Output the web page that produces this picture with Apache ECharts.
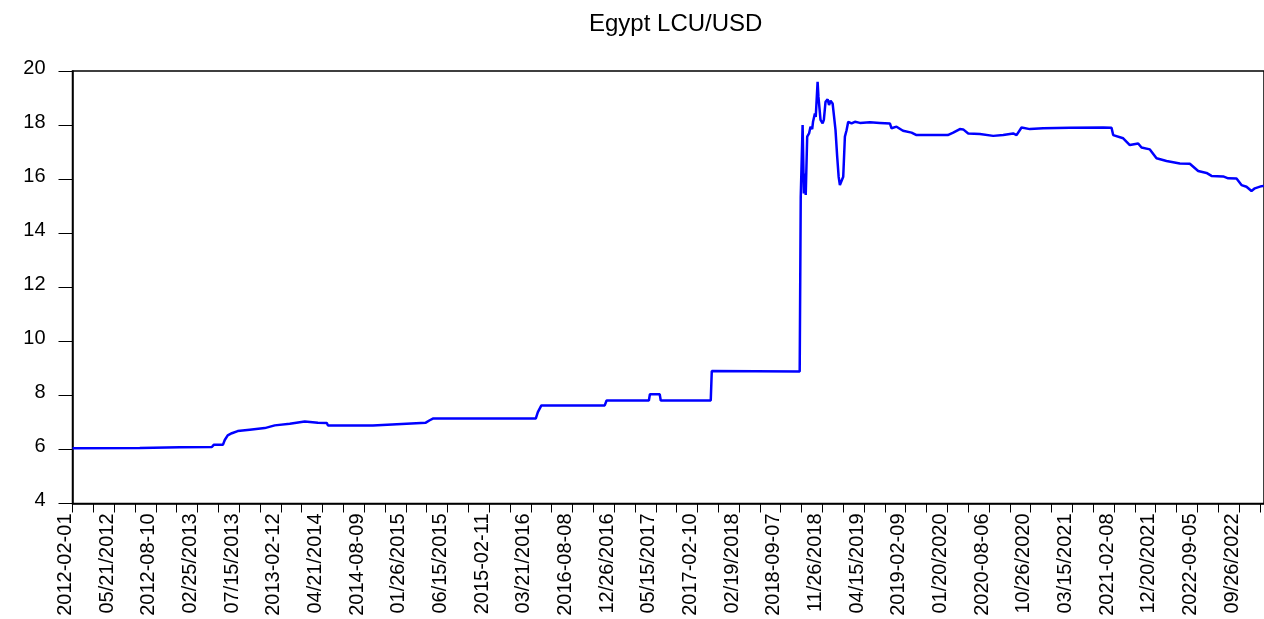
<!DOCTYPE html>
<html>
<head>
<meta charset="utf-8">
<script src="https://cdn.jsdelivr.net/npm/echarts@6/dist/echarts.min.js"></script>
<style>
html,body{margin:0;padding:0;background:#fff;}
#chart{width:1264px;height:619px;}
</style>
</head>
<body>
<div id="chart"></div>
<script>
// Tick labels shown on every second tick of the observation axis
const tickLabels = [
  "2012-02-01","05/21/2012","2012-08-10","02/25/2013","07/15/2013","2013-02-12",
  "04/21/2014","2014-08-09","01/26/2015","06/15/2015","2015-02-11","03/21/2016",
  "2016-08-08","12/26/2016","05/15/2017","2017-02-10","02/19/2018","2018-09-07",
  "11/26/2018","04/15/2019","2019-02-09","01/20/2020","2020-08-06","10/26/2020",
  "03/15/2021","2021-02-08","12/20/2021","2022-09-05","09/26/2022"
];

// Observation position (in axis tick units) and LCU per USD
const obsPos = [
  0, 3.23, 5.15, 6.69, 6.78, 7.22, 7.31, 7.45, 7.65, 7.93, 8.51, 9.23, 9.71, 10.43, 11.15, 11.78, 12.21, 12.26,
  14.42, 14.46, 16.96, 17.15, 17.30, 22.24, 22.34, 22.51, 25.55, 25.64, 27.67, 27.72, 28.19, 28.24, 30.64, 30.69,
  34.91, 34.96, 35.05, 35.11, 35.16, 35.20, 35.27, 35.36, 35.43, 35.51, 35.55, 35.64, 35.68, 35.77, 35.81, 35.88,
  35.91, 36.01, 36.07, 36.15, 36.25, 36.32, 36.39, 36.49, 36.56, 36.63, 36.71, 36.78, 36.84, 36.92, 37.00, 37.08,
  37.16, 37.24, 37.32, 37.40, 37.56, 37.80, 38.28, 38.76, 39.24, 39.32, 39.56, 39.87, 40.28, 40.52, 42.02, 42.28,
  42.60, 42.76, 43.00, 43.56, 44.20, 44.68, 45.16, 45.32, 45.56, 45.96, 46.60, 47.88, 49.48, 49.88, 49.96, 50.44,
  50.76, 51.16, 51.32, 51.72, 52.04, 52.52, 53.16, 53.64, 54.04, 54.44, 54.68, 55.24, 55.48, 55.88, 56.12, 56.36,
  56.60, 56.76, 57.08, 57.19
];
const rate = [
  6.04, 6.05, 6.08, 6.09, 6.17, 6.17, 6.35, 6.52, 6.60, 6.68, 6.73, 6.79, 6.89, 6.95, 7.03, 6.99, 6.98, 6.89,
  6.89, 6.95, 6.99, 7.08, 7.14, 7.14, 7.38, 7.63, 7.63, 7.81, 7.81, 8.04, 8.04, 7.81, 7.81, 8.90,
  8.88, 15.34, 18.00, 15.47, 16.21, 15.41, 17.57, 17.69, 17.94, 17.85, 18.12, 18.43, 18.30, 19.60, 19.05, 19.00,
  18.19, 18.06, 18.19, 18.86, 18.95, 18.74, 18.90, 18.80, 18.31, 17.81, 16.83, 16.09, 15.78, 15.72, 16.09, 17.57,
  17.81, 18.12, 18.19, 18.06, 18.12, 18.08, 18.10, 18.08, 18.06, 17.88, 17.94, 17.79, 17.72, 17.63, 17.63, 17.72,
  17.85, 17.84, 17.69, 17.67, 17.60, 17.63, 17.69, 17.63, 17.91, 17.85, 17.88, 17.90, 17.91, 17.90, 17.63, 17.51,
  17.26, 17.32, 17.17, 17.10, 16.77, 16.67, 16.58, 16.57, 16.30, 16.23, 16.12, 16.10, 16.03, 16.02, 15.78, 15.72,
  15.56, 15.66, 15.74, 15.75
];

const yTicks = { min: 4, max: 20, step: 2 };

const chart = echarts.init(document.getElementById('chart'), null, { renderer: 'canvas' });
const seriesData = obsPos.map((p, i) => [p, rate[i]]);

chart.setOption({
  animation: false,
  backgroundColor: '#ffffff',
  title: {
    text: 'Egypt LCU/USD',
    left: 584,
    top: 7,
    textStyle: { fontFamily: 'Liberation Sans, Arial, sans-serif', fontSize: 24, fontWeight: 'normal', color: '#000' }
  },
  grid: {
    left: 72.5, right: 0, top: 71, bottom: 115.5,
    show: true, borderColor: '#000', borderWidth: 1.5, backgroundColor: 'transparent'
  },
  xAxis: {
    type: 'value',
    min: 0, max: 57.2, interval: 1,
    splitLine: { show: false },
    axisLine: { show: true, onZero: false, lineStyle: { color: '#000', width: 1.5 } },
    axisTick: { show: true, inside: false, length: 9, lineStyle: { color: '#000', width: 1 } },
    axisLabel: {
      show: true,
      rotate: 90,
      margin: 10,
      verticalAlign: 'bottom',
      lineHeight: 14,
      color: '#000',
      fontFamily: 'Liberation Sans, Arial, sans-serif',
      fontSize: 20,
      showMinLabel: true,
      showMaxLabel: true,
      hideOverlap: false,
      formatter: function (v) {
        const r = Math.round(v);
        if (Math.abs(v - r) > 1e-6 || r % 2 !== 0) return '';
        const k = r / 2;
        return k < tickLabels.length ? tickLabels[k] : '';
      }
    }
  },
  yAxis: {
    type: 'value',
    min: yTicks.min, max: yTicks.max, interval: yTicks.step,
    splitLine: { show: false },
    axisLine: { show: true, onZero: false, lineStyle: { color: '#000', width: 1.5 } },
    axisTick: { show: true, inside: false, length: 14, lineStyle: { color: '#000', width: 1 } },
    axisLabel: {
      margin: 27,
      verticalAlign: 'bottom',
      lineHeight: 6,
      color: '#000',
      fontFamily: 'Liberation Sans, Arial, sans-serif',
      fontSize: 20
    }
  },
  series: [{
    type: 'line',
    data: seriesData,
    showSymbol: false,
    symbol: 'none',
    clip: true,
    lineStyle: { color: '#0000ff', width: 2.5 },
    itemStyle: { color: '#0000ff' }
  }]
});
</script>
</body>
</html>
